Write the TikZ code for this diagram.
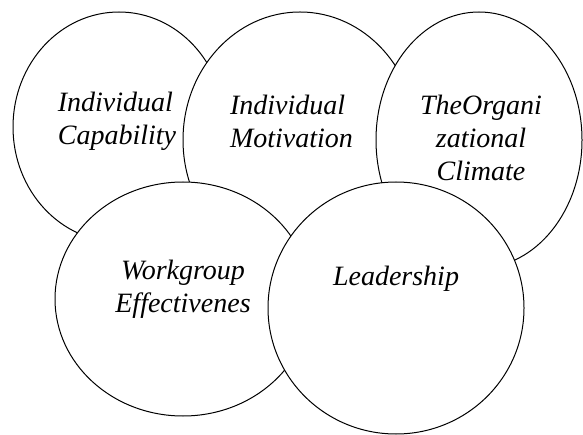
\documentclass[tikz,border=0pt]{standalone}
\usepackage{fontspec}
\setmainfont{Liberation Serif}
\usetikzlibrary{shapes.geometric}

\begin{document}
\begin{tikzpicture}[x=1pt, y=1pt, bubble/.style={ellipse, draw, fill=white, line width=1pt, inner sep=0pt}, lbl/.style={inner sep=0pt, font=\itshape\fontsize{28}{33}\selectfont}]

  \useasboundingbox (0,0) rectangle (583,434);

  \node[bubble, minimum width=212pt, minimum height=230pt] (capab) at (119,307) {};
  \node[bubble, minimum width=234pt, minimum height=256pt] (motiv) at (300,294) {};
  \node[bubble, minimum width=206pt, minimum height=256pt] (climate) at (479,294) {};
  \node[bubble, minimum width=256pt, minimum height=234pt] (workgrp) at (183,135) {};
  \node[bubble, minimum width=256pt, minimum height=252pt] (leader) at (396,126) {};

  \node[lbl, align=left] (capabtxt) at (117,313) {Individual\\Capability};
  \node[lbl, align=left] (motivtxt) at (291.5,312.5) {Individual\\Motivation};
  \node[lbl, align=center] (climatetxt) at (481,296) {TheOrgani\\zational\\Climate};
  \node[lbl, align=center] (workgrptxt) at (183,144.5) {Workgroup\\Effectivenes};
  \node[lbl] (leadertxt) at (396,155.5) {Leadership};
\end{tikzpicture}
\end{document}
